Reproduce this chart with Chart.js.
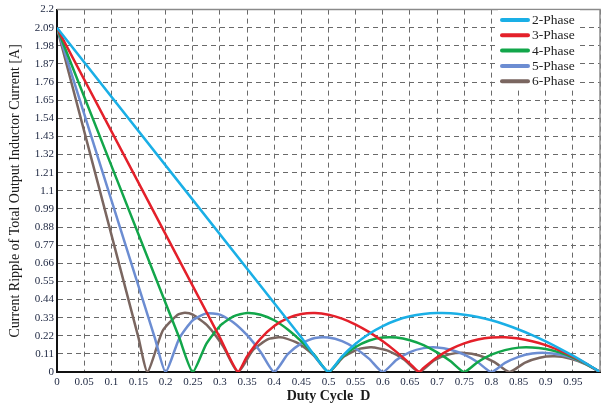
<!DOCTYPE html>
<html>
<head>
<meta charset="utf-8">
<title>Current ripple vs duty cycle</title>
<script src="https://cdn.jsdelivr.net/npm/chart.js@4.4.1/dist/chart.umd.min.js"></script>
<style>
  html, body { margin: 0; padding: 0; background: #fff; }
  #wrap { width: 604px; height: 407px; position: relative; }
</style>
</head>
<body>
<div id="wrap"><canvas id="rippleChart" width="604" height="407"></canvas></div>
<script>
const phaseLabels = ["2-Phase", "3-Phase", "4-Phase", "5-Phase", "6-Phase"];
const phaseColors = ["#1aafe6", "#e4202a", "#12a64a", "#6c8dd2", "#7a6660"];

// duty cycle / ripple pairs
const duty2 = [0, 0.45, 0.5, 0.525, 0.55, 0.575, 0.6, 0.625, 0.65, 0.675, 0.7, 0.725, 0.75, 0.775, 0.8, 0.825, 0.85, 0.875, 0.9, 0.925, 0.95, 0.975, 1];
const ripple2 = [2.09, 0.209, 0, 0.095, 0.171, 0.232, 0.279, 0.314, 0.338, 0.352, 0.358, 0.357, 0.348, 0.334, 0.314, 0.288, 0.258, 0.224, 0.186, 0.144, 0.099, 0.051, 0];

const duty3 = [0, 0.3, 0.3333, 0.35, 0.375, 0.4, 0.425, 0.45, 0.475, 0.5, 0.525, 0.55, 0.575, 0.6, 0.625, 0.65, 0.6667, 0.675, 0.7, 0.725, 0.75, 0.775, 0.8, 0.825, 0.85, 0.875, 0.9, 0.925, 0.95, 0.975, 1];
const ripple3 = [2.09, 0.209, 0, 0.095, 0.203, 0.279, 0.327, 0.352, 0.358, 0.348, 0.324, 0.288, 0.242, 0.186, 0.122, 0.051, 0, 0.025, 0.090, 0.139, 0.174, 0.197, 0.209, 0.211, 0.203, 0.187, 0.163, 0.131, 0.094, 0.050, 0];

const duty4 = [0, 0.225, 0.25, 0.275, 0.3, 0.325, 0.35, 0.375, 0.4, 0.425, 0.45, 0.475, 0.5, 0.525, 0.55, 0.575, 0.6, 0.625, 0.65, 0.675, 0.7, 0.725, 0.75, 0.775, 0.8, 0.825, 0.85, 0.875, 0.9, 0.925, 0.95, 0.975, 1];
const ripple4 = [2.09, 0.209, 0, 0.171, 0.279, 0.338, 0.358, 0.348, 0.314, 0.258, 0.186, 0.099, 0, 0.090, 0.152, 0.191, 0.209, 0.209, 0.193, 0.163, 0.119, 0.065, 0, 0.061, 0.105, 0.133, 0.148, 0.149, 0.139, 0.119, 0.088, 0.048, 0];

const duty5 = [0, 0.18, 0.2, 0.225, 0.25, 0.275, 0.3, 0.325, 0.35, 0.375, 0.4, 0.425, 0.45, 0.475, 0.5, 0.525, 0.55, 0.575, 0.6, 0.625, 0.65, 0.675, 0.7, 0.725, 0.75, 0.775, 0.8, 0.825, 0.85, 0.875, 0.9, 0.925, 0.95, 0.975, 1];
const ripple5 = [2.09, 0.209, 0, 0.203, 0.314, 0.356, 0.348, 0.301, 0.224, 0.122, 0, 0.108, 0.174, 0.206, 0.209, 0.187, 0.143, 0.080, 0, 0.073, 0.121, 0.145, 0.149, 0.135, 0.105, 0.059, 0, 0.055, 0.092, 0.112, 0.116, 0.106, 0.083, 0.047, 0];

const duty6 = [0, 0.15, 0.1667, 0.1944, 0.2222, 0.2357, 0.25, 0.2778, 0.3056, 0.3333, 0.3611, 0.3889, 0.4082, 0.4167, 0.4444, 0.4722, 0.5, 0.5278, 0.5556, 0.5774, 0.5833, 0.6111, 0.6389, 0.6667, 0.6944, 0.7222, 0.75, 0.7778, 0.8056, 0.8333, 0.8611, 0.8889, 0.9167, 0.9444, 0.9722, 1];
const ripple6 = [2.09, 0.209, 0, 0.249, 0.348, 0.359, 0.348, 0.279, 0.158, 0, 0.134, 0.199, 0.211, 0.209, 0.174, 0.103, 0, 0.092, 0.139, 0.150, 0.149, 0.127, 0.076, 0, 0.070, 0.107, 0.116, 0.100, 0.060, 0, 0.056, 0.087, 0.095, 0.082, 0.050, 0];

const dutyLists = [duty2, duty3, duty4, duty5, duty6];
const rippleLists = [ripple2, ripple3, ripple4, ripple5, ripple6];

const SERIF = "'Liberation Serif', 'DejaVu Serif', serif";
const TICK_COLOR = "#222b45";

function fmt(v) {
  return String(parseFloat(Number(v).toFixed(2)));
}

const datasets = phaseLabels.map((label, i) => ({
  label: label,
  data: dutyLists[i].map((x, j) => ({ x: x, y: rippleLists[i][j] })),
  borderColor: phaseColors[i],
  backgroundColor: phaseColors[i],
  borderWidth: 2.5,
  pointRadius: 0,
  tension: 0.2,
  fill: false,
}));

// gray top/right frame like the original figure
const frameLines = {
  id: "frameLines",
  afterDraw(chart) {
    const { ctx, chartArea: a } = chart;
    ctx.save();
    ctx.strokeStyle = "#8a8a8a";
    ctx.lineWidth = 1.5;
    ctx.beginPath();
    ctx.moveTo(a.left, a.top);
    ctx.lineTo(a.right, a.top);
    ctx.lineTo(a.right, a.bottom);
    ctx.stroke();
    ctx.restore();
  },
};

// legend box in the top right corner of the plot
const boxLegend = {
  id: "boxLegend",
  afterDraw(chart) {
    const { ctx, chartArea: a } = chart;
    const left = a.right - 102;
    const top = 10;
    ctx.save();
    ctx.fillStyle = "#ffffff";
    ctx.fillRect(left, top, 82, 80);
    ctx.font = "13.5px " + SERIF;
    ctx.textBaseline = "middle";
    chart.data.datasets.forEach((ds, i) => {
      const y = 20 + i * 15.3;
      ctx.strokeStyle = ds.borderColor;
      ctx.lineWidth = 4;
      ctx.lineCap = "round";
      ctx.beginPath();
      ctx.moveTo(left + 4, y);
      ctx.lineTo(left + 30, y);
      ctx.stroke();
      ctx.fillStyle = "#222";
      ctx.fillText(ds.label, left + 34, y + 0.5);
    });
    ctx.restore();
  },
};

const ctx = document.getElementById("rippleChart").getContext("2d");
const chart = new Chart(ctx, {
  type: "line",
  data: { datasets: datasets },
  plugins: [frameLines, boxLegend],
  options: {
    responsive: false,
    animation: false,
    devicePixelRatio: 1,
    layout: { padding: { top: 0, right: 2, left: 0, bottom: 0 } },
    plugins: {
      legend: { display: false },
      tooltip: { enabled: false },
    },
    scales: {
      x: {
        type: "linear",
        min: 0,
        max: 1,
        afterFit: (scale) => { scale.height = 35; },
        ticks: {
          stepSize: 0.05,
          autoSkip: false,
          maxRotation: 0,
          padding: 4,
          color: TICK_COLOR,
          font: { family: SERIF, size: 11 },
          callback: (v) => (v >= 1 ? "" : fmt(v)),
        },
        grid: { color: "#6a6a6a", lineWidth: 1, drawTicks: false },
        border: { color: "#111", width: 2, dash: [5, 4] },
        title: {
          display: true,
          text: "Duty Cycle  D",
          color: "#1a1a1a",
          font: { family: SERIF, size: 14, weight: "bold" },
          padding: { top: 0, bottom: 2 },
        },
      },
      y: {
        type: "linear",
        min: 0,
        max: 2.2,
        afterFit: (scale) => { scale.width = 57; },
        ticks: {
          stepSize: 0.11,
          autoSkip: false,
          padding: 3,
          color: TICK_COLOR,
          font: { family: SERIF, size: 11 },
          callback: (v) => fmt(v),
        },
        grid: { color: "#6a6a6a", lineWidth: 1, drawTicks: false },
        border: { color: "#111", width: 2, dash: [5, 4] },
        title: {
          display: true,
          text: "Current Ripple of Total Output Inductor Current [A]",
          color: "#1a1a1a",
          font: { family: SERIF, size: 14 },
          padding: { top: 7, bottom: 0 },
        },
      },
    },
  },
});
</script>
</body>
</html>
